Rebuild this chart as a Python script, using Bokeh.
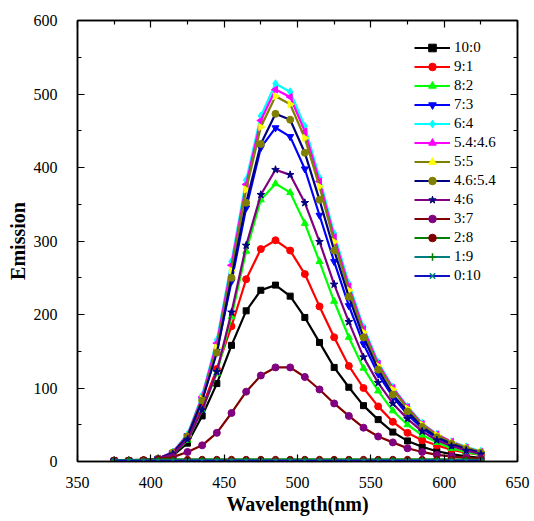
import math
from bokeh.plotting import figure
from bokeh.models import LinearAxis, Legend, LegendItem, FixedTicker, Range1d
from bokeh.embed import file_html
from bokeh.resources import INLINE

wavelength = [375, 385, 395, 405, 415, 425, 435, 445, 455, 465, 475, 485, 495,
              505, 515, 525, 535, 545, 555, 565, 575, 585, 595, 605, 615, 625]

r10_0 = [1, 1, 1, 3, 8, 25, 62, 106, 158, 205, 233, 240, 225, 196, 162, 128, 101, 76, 57, 40, 28, 20, 14, 10, 7, 5]
r9_1 = [1, 1, 1.5, 3.5, 11, 32, 74, 126, 184, 248, 289, 301, 287, 255, 211, 169, 130, 100, 75, 54, 39, 29, 22, 16, 12, 9]
r8_2 = [1, 1, 1.5, 3.5, 10, 29, 70, 120, 197, 286, 356, 378, 366, 324, 272, 218, 169, 127, 96, 69, 50, 36, 26, 18, 13, 9]
r7_3 = [1, 1, 1.5, 4, 12, 35, 84, 150, 245, 345, 427, 454, 442, 398, 335, 272, 212, 160, 119, 88, 64, 45, 32, 23, 16, 11]
r6_4 = [1, 1, 1.5, 4, 13, 37, 90, 165, 272, 383, 470, 514, 503, 456, 386, 310, 242, 183, 135, 101, 75, 52, 37, 27, 20, 14]
r54_46 = [1, 1, 1.5, 4, 13, 36, 88, 161, 267, 377, 464, 506, 496, 449, 381, 305, 238, 180, 133, 100, 74, 51, 37, 27, 19, 13]
r5_5 = [1, 1, 1.5, 4, 12, 35, 85, 155, 260, 370, 455, 497, 486, 440, 374, 299, 233, 176, 130, 98, 72, 50, 36, 26, 19, 13]
r46_54 = [1, 1, 1.5, 4, 12, 34, 83, 148, 250, 352, 432, 473, 465, 420, 356, 287, 224, 169, 125, 91, 68, 47, 33, 24, 17, 12]
r4_6 = [1, 1, 1.5, 3.5, 10, 30, 70, 122, 203, 294, 363, 397, 390, 352, 299, 241, 190, 142, 107, 79, 58, 41, 29, 21, 15, 10]
r3_7 = [1, 1, 1.5, 3, 6, 13, 22, 39, 66, 95, 117, 128, 128, 115, 98, 79, 62, 46, 34, 26, 18, 13, 9, 7, 5, 4]
r2_8 = [2, 2, 2.5, 3, 3, 3, 3, 3, 3, 3, 3, 3, 3, 3, 3, 3, 3, 3, 3, 3, 3, 3, 3, 3, 2.5, 2]
r1_9 = [1.5, 1.5, 1.5, 1.5, 1.5, 1.5, 1.5, 1.5, 1.5, 1.5, 1.5, 1.5, 1.5, 1.5, 1.5, 1.5, 1.5, 1.5, 1.5, 1.5, 1.5, 1.5, 1.5, 1.5, 1.5, 1.5]
r0_10 = [1, 1, 1, 1, 1, 1, 1, 1, 1, 1, 1, 1, 1, 1, 1, 1, 1, 1, 1, 1, 1, 1, 1, 1, 1, 1]

series_names = ["10:0", "9:1", "8:2", "7:3", "6:4", "5.4:4.6", "5:5", "4.6:5.4", "4:6", "3:7", "2:8", "1:9", "0:10"]
series_values = [r10_0, r9_1, r8_2, r7_3, r6_4, r54_46, r5_5, r46_54, r4_6, r3_7, r2_8, r1_9, r0_10]
line_colors = ["#000000", "#ff0000", "#00ff00", "#0000ff", "#00ffff", "#ff00ff", "#808000",
               "#000080", "#800080", "#800000", "#008000", "#008080", "#1010c0"]
marker_colors = ["#000000", "#ff0000", "#00ff00", "#0000ff", "#00ffff", "#ff00ff", "#ffff00",
                 "#808000", "#000080", "#800080", "#800000", "#008000", "#008080"]
marker_types = ["square", "circle", "triangle", "inverted_triangle", "diamond", "triangle", "triangle",
                "circle", "star", "circle", "circle", "cross", "x"]
marker_angles = [0, 0, 0, 0, 0, math.pi / 2, -math.pi / 2, 0, 0, 0, 0, 0, 0]
marker_sizes = [6, 7, 7, 7, 8, 7, 7, 7, 8, 7, 6, 7, 6]

serif = "Liberation Serif"

p = figure(width=532, height=517, x_range=Range1d(350, 650), y_range=Range1d(0, 600),
           output_backend="svg", toolbar_location=None,
           min_border_left=77, min_border_right=15, min_border_top=20, min_border_bottom=54)
p.xgrid.visible = False
p.ygrid.visible = False
p.outline_line_color = "black"
p.outline_line_width = 1.5
p.background_fill_color = "white"
p.border_fill_color = "white"

items = []
for name, vals, lc, mc, mt, ang, ms in zip(series_names, series_values, line_colors,
                                           marker_colors, marker_types, marker_angles, marker_sizes):
    lr = p.line(wavelength, vals, line_color=lc, line_width=2.2)
    sr = p.scatter(wavelength, vals, marker=mt, size=ms, angle=ang,
                   fill_color=mc, line_color=mc, line_width=1.5 if mt in ("cross", "x") else 1)
    items.append(LegendItem(label=name, renderers=[lr, sr]))

legend = Legend(items=items, location=(337, 176), orientation="vertical")
legend.border_line_color = None
legend.background_fill_alpha = 0
legend.padding = 0
legend.margin = 0
legend.spacing = 0
legend.glyph_width = 36
legend.glyph_height = 19
legend.label_height = 19
legend.label_standoff = 4
legend.label_text_font = serif
legend.label_text_font_size = "15px"
legend.label_text_color = "black"
p.add_layout(legend)

def style_axis(ax, show_labels):
    ax.axis_line_color = "black"
    ax.axis_line_width = 1.5
    ax.major_tick_in = 7
    ax.major_tick_out = 0
    ax.minor_tick_in = 4
    ax.minor_tick_out = 0
    ax.major_tick_line_color = "black"
    ax.minor_tick_line_color = "black"
    ax.major_tick_line_width = 1.2
    ax.minor_tick_line_width = 1.2
    ax.major_label_text_font = serif
    ax.major_label_text_font_size = "16px"
    ax.major_label_text_color = "black"
    ax.axis_label_text_font = serif
    ax.axis_label_text_font_size = "20px"
    ax.axis_label_text_font_style = "bold"
    ax.axis_label_text_color = "black"
    if not show_labels:
        ax.major_label_text_font_size = "0px"
        ax.major_label_text_alpha = 0

xticks = FixedTicker(ticks=[350, 400, 450, 500, 550, 600, 650],
                     minor_ticks=[375, 425, 475, 525, 575, 625])
yticks = FixedTicker(ticks=[0, 100, 200, 300, 400, 500, 600],
                     minor_ticks=[50, 150, 250, 350, 450, 550])

xa = p.xaxis[0]
xa.ticker = xticks
xa.axis_label = "Wavelength(nm)"
style_axis(xa, True)
xa.major_label_standoff = 15
xa.axis_label_standoff = 2

ya = p.yaxis[0]
ya.ticker = yticks
ya.axis_label = "Emission"
style_axis(ya, True)
ya.major_label_standoff = 20
ya.axis_label_standoff = 2

top = LinearAxis(ticker=xticks)
style_axis(top, False)
top.major_label_standoff = 0
p.add_layout(top, "above")
right = LinearAxis(ticker=yticks)
style_axis(right, False)
right.major_label_standoff = 0
p.add_layout(right, "right")

open("out.html", "w").write(file_html(p, INLINE))
